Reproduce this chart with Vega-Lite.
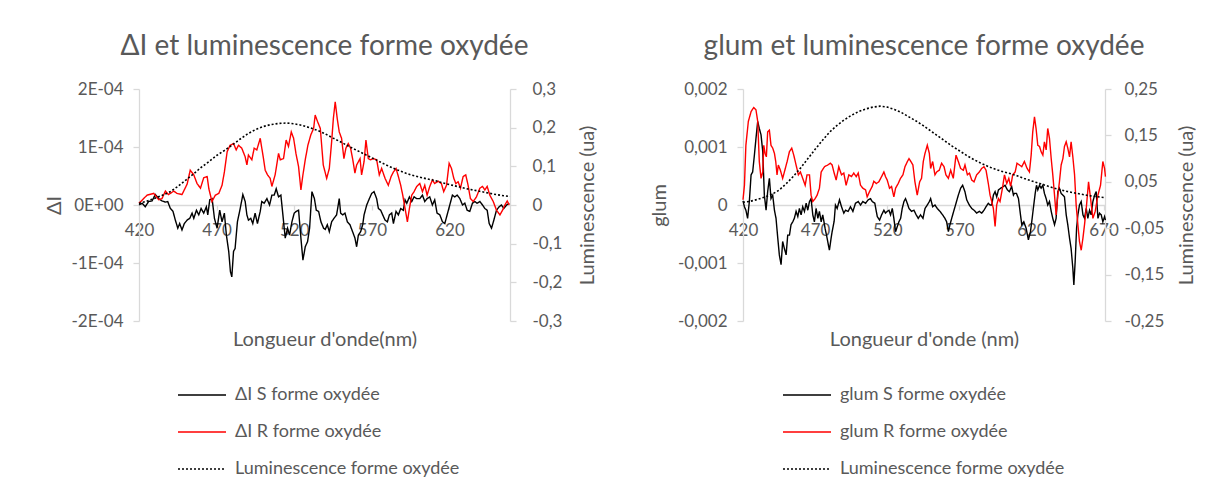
{
  "$schema": "https://vega.github.io/schema/vega-lite/v6.json",
  "background": "white",
  "padding": {"left": 44, "top": 33, "right": 0, "bottom": 0},
  "spacing": 52,
  "config": {
    "font": "Lato",
    "view": {"stroke": null},
    "axis": {"domainColor": "#d9d9d9", "domainWidth": 1.3, "tickColor": "#d9d9d9", "tickWidth": 1.3, "tickSize": 6, "labelColor": "#595959", "labelFont": "Lato", "labelFontSize": 17, "titleColor": "#595959", "titleFont": "Lato", "titleFontSize": 20, "titleFontWeight": "normal", "grid": false},
    "title": {"color": "#595959", "font": "Lato", "fontSize": 28, "fontWeight": "normal"},
    "legend": {"labelLimit": 0}
  },
  "datasets": {
    "lS": [{"nm":420,"v":0},{"nm":422,"v":0.03e-4},{"nm":424,"v":-0.03e-4},{"nm":426.2,"v":0.06e-4},{"nm":428.4,"v":0.07e-4},{"nm":430.5,"v":0.18e-4},{"nm":432.7,"v":0.11e-4},{"nm":434.8,"v":0.07e-4},{"nm":437,"v":0.05e-4},{"nm":438.5,"v":0.06e-4},{"nm":440.2,"v":-0.06e-4},{"nm":441.9,"v":-0.11e-4},{"nm":443.4,"v":-0.26e-4},{"nm":445,"v":-0.4e-4},{"nm":446.2,"v":-0.32e-4},{"nm":447.7,"v":-0.43e-4},{"nm":449.2,"v":-0.32e-4},{"nm":451,"v":-0.26e-4},{"nm":452.7,"v":-0.23e-4},{"nm":454.2,"v":-0.14e-4},{"nm":455.3,"v":-0.23e-4},{"nm":457,"v":-0.09e-4},{"nm":458.5,"v":-0.17e-4},{"nm":460,"v":-0.06e-4},{"nm":461.7,"v":-0.14e-4},{"nm":463.4,"v":-0.03e-4},{"nm":464.3,"v":-0.17e-4},{"nm":465.6,"v":0.09e-4},{"nm":467.1,"v":0.11e-4},{"nm":468.6,"v":-0.23e-4},{"nm":470.3,"v":-0.4e-4},{"nm":472,"v":-0.09e-4},{"nm":473.5,"v":-0.29e-4},{"nm":475,"v":-0.14e-4},{"nm":476.3,"v":-0.52e-4},{"nm":477.8,"v":-0.8e-4},{"nm":478.9,"v":-1.15e-4},{"nm":479.8,"v":-1.24e-4},{"nm":480.9,"v":-0.8e-4},{"nm":481.9,"v":-0.75e-4},{"nm":483.4,"v":-0.29e-4},{"nm":485.2,"v":-0.06e-4},{"nm":486.9,"v":0.18e-4},{"nm":488.4,"v":0.06e-4},{"nm":489.5,"v":-0.17e-4},{"nm":490.5,"v":-0.26e-4},{"nm":492,"v":-0.23e-4},{"nm":493.3,"v":-0.32e-4},{"nm":494.8,"v":-0.14e-4},{"nm":496.3,"v":-0.32e-4},{"nm":498.1,"v":-0.11e-4},{"nm":499.1,"v":0.06e-4},{"nm":500.6,"v":0.03e-4},{"nm":502.4,"v":0.11e-4},{"nm":504.1,"v":0},{"nm":505.6,"v":0.17e-4},{"nm":507.1,"v":0.17e-4},{"nm":508.4,"v":0.28e-4},{"nm":509.9,"v":0.14e-4},{"nm":511.4,"v":0.17e-4},{"nm":512.7,"v":-0.17e-4},{"nm":514.2,"v":-0.57e-4},{"nm":515.7,"v":-0.4e-4},{"nm":517,"v":-0.52e-4},{"nm":518.5,"v":-0.29e-4},{"nm":520,"v":-0.14e-4},{"nm":521.3,"v":-0.11e-4},{"nm":522.8,"v":-0.09e-4},{"nm":524.3,"v":-0.57e-4},{"nm":525.6,"v":-0.95e-4},{"nm":527.1,"v":-0.72e-4},{"nm":528.6,"v":-0.63e-4},{"nm":529.9,"v":-0.4e-4},{"nm":531.4,"v":0.23e-4},{"nm":533,"v":0.11e-4},{"nm":534.2,"v":-0.09e-4},{"nm":535.7,"v":-0.11e-4},{"nm":537.2,"v":-0.29e-4},{"nm":538.9,"v":-0.4e-4},{"nm":540,"v":-0.42e-4},{"nm":541.3,"v":-0.34e-4},{"nm":542.6,"v":-0.46e-4},{"nm":544.1,"v":-0.29e-4},{"nm":545.6,"v":-0.23e-4},{"nm":547.3,"v":-0.17e-4},{"nm":549,"v":0.11e-4},{"nm":549.9,"v":-0.14e-4},{"nm":551.2,"v":-0.17e-4},{"nm":552.7,"v":-0.14e-4},{"nm":554.2,"v":-0.29e-4},{"nm":555.9,"v":-0.34e-4},{"nm":557.6,"v":-0.46e-4},{"nm":559.1,"v":-0.57e-4},{"nm":560.2,"v":-0.72e-4},{"nm":561.3,"v":-0.52e-4},{"nm":562.8,"v":-0.46e-4},{"nm":564.1,"v":-0.34e-4},{"nm":565,"v":-0.17e-4},{"nm":566.7,"v":0},{"nm":568.4,"v":0.11e-4},{"nm":569.9,"v":0.2e-4},{"nm":571.4,"v":0.23e-4},{"nm":573.1,"v":0.11e-4},{"nm":574.2,"v":-0.06e-4},{"nm":575.7,"v":-0.09e-4},{"nm":577,"v":-0.17e-4},{"nm":578.5,"v":-0.26e-4},{"nm":580,"v":-0.29e-4},{"nm":581.3,"v":-0.17e-4},{"nm":582.8,"v":-0.14e-4},{"nm":583.9,"v":-0.32e-4},{"nm":585.6,"v":-0.11e-4},{"nm":587.1,"v":-0.17e-4},{"nm":588.6,"v":-0.06e-4},{"nm":590.3,"v":-0.09e-4},{"nm":591.4,"v":0.09e-4},{"nm":592.5,"v":0.03e-4},{"nm":594.2,"v":0.14e-4},{"nm":595.7,"v":0.06e-4},{"nm":597.2,"v":0.14e-4},{"nm":598.9,"v":0.11e-4},{"nm":600.9,"v":0.11e-4},{"nm":602.6,"v":0.17e-4},{"nm":604.1,"v":0.06e-4},{"nm":605.6,"v":0.11e-4},{"nm":607.3,"v":0.14e-4},{"nm":609,"v":0},{"nm":610.5,"v":0.09e-4},{"nm":612,"v":-0.14e-4},{"nm":613.8,"v":-0.17e-4},{"nm":615.5,"v":-0.29e-4},{"nm":617,"v":-0.32e-4},{"nm":618.5,"v":-0.17e-4},{"nm":620.2,"v":0},{"nm":621.9,"v":0.17e-4},{"nm":623.4,"v":0.14e-4},{"nm":625,"v":0.17e-4},{"nm":626.7,"v":0.11e-4},{"nm":628.4,"v":0},{"nm":629.9,"v":0.03e-4},{"nm":631.4,"v":-0.09e-4},{"nm":633.1,"v":-0.11e-4},{"nm":634.8,"v":0.03e-4},{"nm":636.3,"v":0.06e-4},{"nm":637.8,"v":0.03e-4},{"nm":639.6,"v":0.06e-4},{"nm":641.3,"v":0},{"nm":642.8,"v":-0.06e-4},{"nm":644.3,"v":-0.09e-4},{"nm":645.6,"v":-0.32e-4},{"nm":647.1,"v":-0.4e-4},{"nm":648.6,"v":-0.26e-4},{"nm":650.3,"v":-0.09e-4},{"nm":652,"v":-0.03e-4},{"nm":653.5,"v":0},{"nm":655,"v":-0.06e-4},{"nm":656.8,"v":0},{"nm":658.5,"v":0.03e-4}],
    "lR": [{"nm":420,"v":0.03e-4},{"nm":425.2,"v":0.17e-4},{"nm":429.5,"v":0.2e-4},{"nm":432.7,"v":0.09e-4},{"nm":434.8,"v":0.11e-4},{"nm":437,"v":0.24e-4},{"nm":439,"v":0.18e-4},{"nm":442.4,"v":0.24e-4},{"nm":444.5,"v":0.2e-4},{"nm":447.7,"v":0.18e-4},{"nm":451,"v":0.36e-4},{"nm":453,"v":0.6e-4},{"nm":455.3,"v":0.52e-4},{"nm":457.4,"v":0.37e-4},{"nm":459.6,"v":0.29e-4},{"nm":461.7,"v":0.47e-4},{"nm":463.9,"v":0.49e-4},{"nm":465,"v":0.28e-4},{"nm":467,"v":0.06e-4},{"nm":469.2,"v":0.17e-4},{"nm":471.4,"v":0.2e-4},{"nm":473.5,"v":0.34e-4},{"nm":475,"v":0.57e-4},{"nm":476.8,"v":0.92e-4},{"nm":478.7,"v":1.03e-4},{"nm":480.9,"v":1.06e-4},{"nm":482.6,"v":0.95e-4},{"nm":484.1,"v":1.03e-4},{"nm":486.2,"v":0.98e-4},{"nm":488.4,"v":0.83e-4},{"nm":489.5,"v":0.69e-4},{"nm":490.5,"v":0.86e-4},{"nm":492.7,"v":0.78e-4},{"nm":494.2,"v":0.98e-4},{"nm":495.9,"v":0.95e-4},{"nm":498.1,"v":1.15e-4},{"nm":499.1,"v":0.98e-4},{"nm":500.2,"v":0.8e-4},{"nm":501.3,"v":0.6e-4},{"nm":502.8,"v":0.52e-4},{"nm":504.5,"v":0.46e-4},{"nm":505.6,"v":0.32e-4},{"nm":507.7,"v":0.52e-4},{"nm":509.9,"v":0.89e-4},{"nm":511,"v":0.78e-4},{"nm":513.1,"v":0.8e-4},{"nm":514.8,"v":1.12e-4},{"nm":516.3,"v":1.01e-4},{"nm":518.1,"v":1.26e-4},{"nm":519.6,"v":1.15e-4},{"nm":521.1,"v":0.89e-4},{"nm":522.8,"v":0.66e-4},{"nm":524.3,"v":0.26e-4},{"nm":525.6,"v":0.52e-4},{"nm":527.1,"v":0.78e-4},{"nm":528.8,"v":1.03e-4},{"nm":530.7,"v":1.21e-4},{"nm":532.5,"v":1.32e-4},{"nm":533.5,"v":1.55e-4},{"nm":535,"v":1.44e-4},{"nm":536.8,"v":1.32e-4},{"nm":538.7,"v":0.69e-4},{"nm":540.9,"v":0.46e-4},{"nm":542.6,"v":0.63e-4},{"nm":544.1,"v":1.09e-4},{"nm":545.2,"v":1.49e-4},{"nm":546.4,"v":1.78e-4},{"nm":547.7,"v":1.49e-4},{"nm":549,"v":1.26e-4},{"nm":550.5,"v":1.15e-4},{"nm":552,"v":0.8e-4},{"nm":553.3,"v":0.98e-4},{"nm":554.8,"v":1.06e-4},{"nm":556.3,"v":0.98e-4},{"nm":557.6,"v":0.8e-4},{"nm":559.1,"v":0.55e-4},{"nm":560.2,"v":0.69e-4},{"nm":562.4,"v":0.8e-4},{"nm":563.4,"v":0.52e-4},{"nm":565,"v":0.75e-4},{"nm":566.2,"v":1.12e-4},{"nm":567.7,"v":0.8e-4},{"nm":569.2,"v":0.78e-4},{"nm":571,"v":0.8e-4},{"nm":573.1,"v":0.78e-4},{"nm":574.8,"v":0.52e-4},{"nm":576.3,"v":0.63e-4},{"nm":578.5,"v":0.46e-4},{"nm":580.6,"v":0.34e-4},{"nm":582.4,"v":0.49e-4},{"nm":583.9,"v":0.57e-4},{"nm":585.6,"v":0.63e-4},{"nm":587.1,"v":0.49e-4},{"nm":588.6,"v":0.34e-4},{"nm":589.9,"v":0.17e-4},{"nm":591.4,"v":-0.06e-4},{"nm":592.9,"v":-0.29e-4},{"nm":594.2,"v":-0.06e-4},{"nm":595.7,"v":0.17e-4},{"nm":597.2,"v":0.23e-4},{"nm":598.9,"v":0.32e-4},{"nm":600.9,"v":0.37e-4},{"nm":602.6,"v":0.23e-4},{"nm":604.1,"v":0.34e-4},{"nm":605.6,"v":0.17e-4},{"nm":607.3,"v":0.32e-4},{"nm":609,"v":0.43e-4},{"nm":610.5,"v":0.37e-4},{"nm":612.7,"v":0.41e-4},{"nm":614.8,"v":0.37e-4},{"nm":616.3,"v":0.23e-4},{"nm":618.1,"v":0.34e-4},{"nm":619.8,"v":0.72e-4},{"nm":621.3,"v":0.63e-4},{"nm":622.8,"v":0.46e-4},{"nm":624.1,"v":0.37e-4},{"nm":625.6,"v":0.4e-4},{"nm":627.1,"v":0.29e-4},{"nm":628.8,"v":0.49e-4},{"nm":630.5,"v":0.52e-4},{"nm":632,"v":0.34e-4},{"nm":633.5,"v":0.11e-4},{"nm":635.3,"v":0.06e-4},{"nm":637.4,"v":0.14e-4},{"nm":639.6,"v":0.29e-4},{"nm":641.3,"v":0.32e-4},{"nm":642.8,"v":0.26e-4},{"nm":644.3,"v":0.32e-4},{"nm":646,"v":0.17e-4},{"nm":648.2,"v":0.06e-4},{"nm":650.3,"v":-0.09e-4},{"nm":652.5,"v":-0.17e-4},{"nm":654.2,"v":-0.09e-4},{"nm":655.7,"v":0},{"nm":657.2,"v":0.07e-4},{"nm":658.5,"v":0}],
    "lL": [{"nm":420,"v":0.004},{"nm":425,"v":0.01},{"nm":430,"v":0.017},{"nm":435,"v":0.025},{"nm":440,"v":0.034},{"nm":445,"v":0.048},{"nm":450,"v":0.064},{"nm":455,"v":0.08},{"nm":460,"v":0.097},{"nm":465,"v":0.112},{"nm":470,"v":0.128},{"nm":475,"v":0.141},{"nm":480,"v":0.155},{"nm":485,"v":0.17},{"nm":490,"v":0.184},{"nm":495,"v":0.195},{"nm":500,"v":0.203},{"nm":505,"v":0.208},{"nm":510,"v":0.211},{"nm":515,"v":0.212},{"nm":520,"v":0.21},{"nm":525,"v":0.206},{"nm":530,"v":0.2},{"nm":535,"v":0.193},{"nm":540,"v":0.184},{"nm":545,"v":0.173},{"nm":550,"v":0.163},{"nm":555,"v":0.152},{"nm":560,"v":0.142},{"nm":565,"v":0.132},{"nm":570,"v":0.122},{"nm":575,"v":0.112},{"nm":580,"v":0.102},{"nm":585,"v":0.093},{"nm":590,"v":0.085},{"nm":595,"v":0.078},{"nm":600,"v":0.073},{"nm":605,"v":0.068},{"nm":610,"v":0.064},{"nm":615,"v":0.058},{"nm":620,"v":0.053},{"nm":625,"v":0.048},{"nm":630,"v":0.043},{"nm":635,"v":0.039},{"nm":640,"v":0.035},{"nm":645,"v":0.031},{"nm":650,"v":0.027},{"nm":655,"v":0.024},{"nm":659,"v":0.022}],
    "rS": [{"nm":420,"v":0.07e-3},{"nm":421,"v":-0.03e-3},{"nm":422,"v":-0.09e-3},{"nm":423.2,"v":-0.23e-3},{"nm":424.4,"v":0.06e-3},{"nm":425.6,"v":0.52e-3},{"nm":426.7,"v":0.57e-3},{"nm":427.9,"v":0.86e-3},{"nm":429,"v":1.15e-3},{"nm":430.2,"v":1.44e-3},{"nm":431.3,"v":1.32e-3},{"nm":432.5,"v":1.21e-3},{"nm":433.7,"v":0.92e-3},{"nm":434.8,"v":0.17e-3},{"nm":436,"v":-0.09e-3},{"nm":437.1,"v":0.23e-3},{"nm":438.3,"v":0.46e-3},{"nm":439.4,"v":0.11e-3},{"nm":440.6,"v":0.17e-3},{"nm":441.8,"v":-0.09e-3},{"nm":442.9,"v":-0.23e-3},{"nm":444.1,"v":-0.57e-3},{"nm":445.2,"v":-0.86e-3},{"nm":446.4,"v":-1.03e-3},{"nm":447.5,"v":-0.63e-3},{"nm":448.7,"v":-0.75e-3},{"nm":449.9,"v":-0.86e-3},{"nm":451,"v":-0.52e-3},{"nm":452.2,"v":-0.52e-3},{"nm":453.3,"v":-0.34e-3},{"nm":454.5,"v":-0.29e-3},{"nm":455.6,"v":-0.23e-3},{"nm":456.8,"v":-0.11e-3},{"nm":458,"v":-0.2e-3},{"nm":459.1,"v":-0.06e-3},{"nm":460.3,"v":-0.17e-3},{"nm":461.4,"v":-0.03e-3},{"nm":462.6,"v":-0.11e-3},{"nm":463.8,"v":0.03e-3},{"nm":464.9,"v":-0.09e-3},{"nm":466.1,"v":0.06e-3},{"nm":467.2,"v":0.11e-3},{"nm":468.4,"v":-0.17e-3},{"nm":469.5,"v":-0.29e-3},{"nm":470.7,"v":-0.06e-3},{"nm":471.9,"v":-0.23e-3},{"nm":473,"v":-0.11e-3},{"nm":474.2,"v":-0.29e-3},{"nm":475.3,"v":-0.17e-3},{"nm":476.9,"v":-0.4e-3},{"nm":478.3,"v":-0.57e-3},{"nm":479.9,"v":-0.78e-3},{"nm":481.1,"v":-0.57e-3},{"nm":481.8,"v":-0.46e-3},{"nm":483.2,"v":-0.28e-3},{"nm":484.1,"v":0},{"nm":485.3,"v":-0.06e-3},{"nm":486.9,"v":0.09e-3},{"nm":488.3,"v":-0.03e-3},{"nm":489.9,"v":-0.14e-3},{"nm":491.1,"v":-0.09e-3},{"nm":492.9,"v":-0.11e-3},{"nm":494.5,"v":-0.03e-3},{"nm":496.2,"v":-0.11e-3},{"nm":498,"v":0.03e-3},{"nm":499.9,"v":0.06e-3},{"nm":501.5,"v":0},{"nm":503.1,"v":0.06e-3},{"nm":505,"v":0.03e-3},{"nm":506.8,"v":0.09e-3},{"nm":508.4,"v":0.11e-3},{"nm":509.6,"v":0.06e-3},{"nm":511.4,"v":0.03e-3},{"nm":513.1,"v":-0.2e-3},{"nm":514.7,"v":-0.26e-3},{"nm":516.1,"v":-0.17e-3},{"nm":517.7,"v":-0.09e-3},{"nm":518.8,"v":-0.14e-3},{"nm":520,"v":-0.11e-3},{"nm":521.2,"v":-0.09e-3},{"nm":522.3,"v":-0.17e-3},{"nm":523.5,"v":-0.06e-3},{"nm":524.6,"v":-0.23e-3},{"nm":525.8,"v":-0.46e-3},{"nm":527,"v":-0.37e-3},{"nm":528.1,"v":-0.29e-3},{"nm":529.3,"v":-0.23e-3},{"nm":530.4,"v":-0.06e-3},{"nm":531.6,"v":0.06e-3},{"nm":532.7,"v":0.11e-3},{"nm":533.9,"v":0.03e-3},{"nm":535.1,"v":-0.06e-3},{"nm":536.9,"v":-0.11e-3},{"nm":538.5,"v":-0.09e-3},{"nm":540.1,"v":-0.17e-3},{"nm":541.5,"v":-0.23e-3},{"nm":543.1,"v":-0.17e-3},{"nm":544.8,"v":-0.23e-3},{"nm":546.2,"v":-0.06e-3},{"nm":547.8,"v":0},{"nm":549.2,"v":0.06e-3},{"nm":550.1,"v":0.11e-3},{"nm":551.5,"v":-0.03e-3},{"nm":553.1,"v":0},{"nm":554.7,"v":-0.06e-3},{"nm":556.6,"v":-0.11e-3},{"nm":558.4,"v":-0.17e-3},{"nm":560,"v":-0.23e-3},{"nm":561.2,"v":-0.29e-3},{"nm":562.4,"v":-0.46e-3},{"nm":563.5,"v":-0.34e-3},{"nm":564.7,"v":-0.23e-3},{"nm":566.3,"v":-0.09e-3},{"nm":567.7,"v":0.03e-3},{"nm":569.3,"v":0.17e-3},{"nm":570.9,"v":0.29e-3},{"nm":572.3,"v":0.34e-3},{"nm":573.9,"v":0.23e-3},{"nm":575.1,"v":0.09e-3},{"nm":576.9,"v":0},{"nm":578.6,"v":-0.06e-3},{"nm":580.2,"v":-0.09e-3},{"nm":582,"v":-0.14e-3},{"nm":583.9,"v":-0.11e-3},{"nm":585.5,"v":-0.14e-3},{"nm":587.1,"v":-0.09e-3},{"nm":588.5,"v":-0.03e-3},{"nm":590.1,"v":0.03e-3},{"nm":591.3,"v":0},{"nm":592.5,"v":0},{"nm":593.6,"v":0.17e-3},{"nm":594.8,"v":0.23e-3},{"nm":595.9,"v":0.14e-3},{"nm":597.1,"v":0.26e-3},{"nm":598.7,"v":0.29e-3},{"nm":600.6,"v":0.32e-3},{"nm":601.7,"v":0.34e-3},{"nm":603.3,"v":0.26e-3},{"nm":604.7,"v":0.23e-3},{"nm":606.3,"v":0.32e-3},{"nm":607.5,"v":0.17e-3},{"nm":608.2,"v":0.2e-3},{"nm":609.6,"v":0.2e-3},{"nm":611,"v":0.11e-3},{"nm":612.4,"v":-0.17e-3},{"nm":613.3,"v":-0.34e-3},{"nm":614.7,"v":-0.29e-3},{"nm":616.3,"v":-0.4e-3},{"nm":617.9,"v":-0.6e-3},{"nm":619.3,"v":-0.46e-3},{"nm":620.2,"v":-0.29e-3},{"nm":621.6,"v":0},{"nm":622.6,"v":0.2e-3},{"nm":623.5,"v":0.34e-3},{"nm":624.4,"v":0.26e-3},{"nm":625.6,"v":0.34e-3},{"nm":626.7,"v":0.29e-3},{"nm":627.9,"v":0.34e-3},{"nm":629,"v":0.2e-3},{"nm":630.2,"v":0.11e-3},{"nm":631.3,"v":0},{"nm":632.5,"v":0.06e-3},{"nm":633.7,"v":-0.11e-3},{"nm":634.8,"v":-0.23e-3},{"nm":636,"v":-0.34e-3},{"nm":637.1,"v":-0.23e-3},{"nm":638.3,"v":0.23e-3},{"nm":639.4,"v":0.29e-3},{"nm":640.6,"v":0.2e-3},{"nm":641.8,"v":0.17e-3},{"nm":642.9,"v":0.14e-3},{"nm":644.1,"v":-0.17e-3},{"nm":645.2,"v":-0.34e-3},{"nm":646.4,"v":-0.57e-3},{"nm":647.5,"v":-0.75e-3},{"nm":648.7,"v":-1.09e-3},{"nm":649.4,"v":-1.38e-3},{"nm":650.3,"v":-0.98e-3},{"nm":651.3,"v":-0.4e-3},{"nm":652.2,"v":-0.17e-3},{"nm":653.3,"v":0},{"nm":654.5,"v":0.06e-3},{"nm":655.7,"v":-0.17e-3},{"nm":656.8,"v":-0.23e-3},{"nm":658,"v":-0.06e-3},{"nm":659.1,"v":-0.23e-3},{"nm":660.3,"v":-0.09e-3},{"nm":661.4,"v":-0.17e-3},{"nm":662.6,"v":0.06e-3},{"nm":663.8,"v":0.17e-3},{"nm":664.9,"v":0.23e-3},{"nm":666.1,"v":-0.23e-3},{"nm":667.2,"v":-0.14e-3},{"nm":668.4,"v":-0.17e-3},{"nm":669.5,"v":-0.29e-3},{"nm":670.7,"v":-0.2e-3},{"nm":671.3,"v":-0.26e-3}],
    "rR": [{"nm":420,"v":0.09e-3},{"nm":421,"v":0.34e-3},{"nm":422,"v":1.03e-3},{"nm":423.7,"v":1.44e-3},{"nm":425.6,"v":1.61e-3},{"nm":427.4,"v":1.68e-3},{"nm":429,"v":1.64e-3},{"nm":430.2,"v":1.44e-3},{"nm":431.3,"v":0.75e-3},{"nm":432.5,"v":0.46e-3},{"nm":433.7,"v":0.57e-3},{"nm":434.4,"v":1.03e-3},{"nm":435.3,"v":0.89e-3},{"nm":436.2,"v":0.83e-3},{"nm":437.1,"v":1.26e-3},{"nm":438.3,"v":1.29e-3},{"nm":439.4,"v":1.03e-3},{"nm":440.6,"v":0.98e-3},{"nm":441.8,"v":0.89e-3},{"nm":442.7,"v":0.75e-3},{"nm":443.6,"v":0.52e-3},{"nm":444.5,"v":0.69e-3},{"nm":445.9,"v":0.6e-3},{"nm":447.5,"v":0.46e-3},{"nm":448.7,"v":0.57e-3},{"nm":450.6,"v":0.75e-3},{"nm":452.2,"v":0.92e-3},{"nm":453.8,"v":0.98e-3},{"nm":455.2,"v":0.86e-3},{"nm":456.8,"v":0.69e-3},{"nm":458.4,"v":0.52e-3},{"nm":459.8,"v":0.57e-3},{"nm":461.4,"v":0.46e-3},{"nm":463.1,"v":0.34e-3},{"nm":464.4,"v":0.52e-3},{"nm":466.1,"v":0.52e-3},{"nm":467.2,"v":0.17e-3},{"nm":468.4,"v":0.06e-3},{"nm":470,"v":0.11e-3},{"nm":471.4,"v":0.17e-3},{"nm":473,"v":0.29e-3},{"nm":474.2,"v":0.57e-3},{"nm":476.5,"v":0.66e-3},{"nm":478.8,"v":0.69e-3},{"nm":480.6,"v":0.72e-3},{"nm":481.8,"v":0.69e-3},{"nm":483,"v":0.57e-3},{"nm":484.6,"v":0.43e-3},{"nm":486.4,"v":0.66e-3},{"nm":488.3,"v":0.52e-3},{"nm":489.9,"v":0.55e-3},{"nm":491.5,"v":0.34e-3},{"nm":493.4,"v":0.52e-3},{"nm":495.2,"v":0.49e-3},{"nm":496.8,"v":0.55e-3},{"nm":498.5,"v":0.49e-3},{"nm":499.9,"v":0.55e-3},{"nm":501.5,"v":0.34e-3},{"nm":503.1,"v":0.29e-3},{"nm":505,"v":0.26e-3},{"nm":506.1,"v":0.14e-3},{"nm":507.7,"v":0.23e-3},{"nm":509.6,"v":0.32e-3},{"nm":510.7,"v":0.41e-3},{"nm":512.4,"v":0.37e-3},{"nm":514.2,"v":0.4e-3},{"nm":516.1,"v":0.49e-3},{"nm":517.7,"v":0.57e-3},{"nm":518.8,"v":0.49e-3},{"nm":520,"v":0.43e-3},{"nm":521.6,"v":0.29e-3},{"nm":523,"v":0.32e-3},{"nm":524.6,"v":0.14e-3},{"nm":525.8,"v":0.29e-3},{"nm":527.6,"v":0.37e-3},{"nm":529.2,"v":0.46e-3},{"nm":530.9,"v":0.52e-3},{"nm":532.3,"v":0.66e-3},{"nm":534,"v":0.75e-3},{"nm":535.1,"v":0.8e-3},{"nm":536.4,"v":0.75e-3},{"nm":537.8,"v":0.69e-3},{"nm":539.2,"v":0.4e-3},{"nm":540.8,"v":0.17e-3},{"nm":542.5,"v":0.4e-3},{"nm":543.8,"v":0.46e-3},{"nm":545,"v":0.75e-3},{"nm":546.2,"v":0.89e-3},{"nm":547.8,"v":1.03e-3},{"nm":549.2,"v":0.89e-3},{"nm":550.1,"v":0.63e-3},{"nm":551.5,"v":0.75e-3},{"nm":553.1,"v":0.52e-3},{"nm":554.3,"v":0.57e-3},{"nm":556.1,"v":0.6e-3},{"nm":557.7,"v":0.72e-3},{"nm":559.4,"v":0.66e-3},{"nm":560.7,"v":0.52e-3},{"nm":562.4,"v":0.46e-3},{"nm":564,"v":0.6e-3},{"nm":565.8,"v":0.46e-3},{"nm":567.7,"v":0.86e-3},{"nm":569.3,"v":0.75e-3},{"nm":570.9,"v":0.63e-3},{"nm":572.8,"v":0.6e-3},{"nm":573.9,"v":0.69e-3},{"nm":575.6,"v":0.52e-3},{"nm":577,"v":0.55e-3},{"nm":578.6,"v":0.43e-3},{"nm":580.2,"v":0.4e-3},{"nm":582,"v":0.52e-3},{"nm":583.9,"v":0.57e-3},{"nm":585.5,"v":0.63e-3},{"nm":587.1,"v":0.66e-3},{"nm":588.5,"v":0.6e-3},{"nm":590.1,"v":0.37e-3},{"nm":591.3,"v":0.17e-3},{"nm":592.5,"v":0.06e-3},{"nm":593.6,"v":-0.06e-3},{"nm":594.8,"v":-0.37e-3},{"nm":595.9,"v":0},{"nm":597.1,"v":0.11e-3},{"nm":598.2,"v":0.06e-3},{"nm":599.9,"v":0.29e-3},{"nm":601.3,"v":0.52e-3},{"nm":602.9,"v":0.37e-3},{"nm":604.3,"v":0.46e-3},{"nm":605.6,"v":0.32e-3},{"nm":607,"v":0.52e-3},{"nm":608.7,"v":0.57e-3},{"nm":610,"v":0.72e-3},{"nm":611.7,"v":0.69e-3},{"nm":613.3,"v":0.66e-3},{"nm":615.1,"v":0.75e-3},{"nm":617,"v":0.63e-3},{"nm":618.6,"v":0.57e-3},{"nm":619.8,"v":0.86e-3},{"nm":620.9,"v":1.26e-3},{"nm":622.1,"v":1.52e-3},{"nm":623.2,"v":1.32e-3},{"nm":624.4,"v":1.03e-3},{"nm":625.6,"v":1.01e-3},{"nm":626.7,"v":0.92e-3},{"nm":627.9,"v":0.86e-3},{"nm":629,"v":1.09e-3},{"nm":630.2,"v":0.95e-3},{"nm":631.3,"v":1.32e-3},{"nm":632.5,"v":1.15e-3},{"nm":633.7,"v":0.8e-3},{"nm":634.8,"v":0.52e-3},{"nm":636,"v":0.17e-3},{"nm":637.1,"v":-0.17e-3},{"nm":638.3,"v":0.17e-3},{"nm":639.4,"v":0.4e-3},{"nm":640.6,"v":0.69e-3},{"nm":641.8,"v":0.8e-3},{"nm":642.9,"v":1.01e-3},{"nm":644.1,"v":1.09e-3},{"nm":645.2,"v":0.98e-3},{"nm":646.4,"v":0.83e-3},{"nm":647.5,"v":1.09e-3},{"nm":648.7,"v":0.83e-3},{"nm":649.9,"v":0.52e-3},{"nm":651,"v":0},{"nm":652.2,"v":-0.34e-3},{"nm":653.3,"v":-0.63e-3},{"nm":654.5,"v":-0.78e-3},{"nm":655.7,"v":-0.57e-3},{"nm":656.8,"v":-0.34e-3},{"nm":658,"v":-0.06e-3},{"nm":659.6,"v":0.4e-3},{"nm":661,"v":0.11e-3},{"nm":662.6,"v":-0.23e-3},{"nm":664.2,"v":-0.11e-3},{"nm":666.1,"v":0.17e-3},{"nm":667.9,"v":0.34e-3},{"nm":669.5,"v":0.75e-3},{"nm":670.7,"v":0.63e-3},{"nm":671.3,"v":0.49e-3}],
    "rL": [{"nm":420,"v":0.006},{"nm":425,"v":0.008},{"nm":430,"v":0.012},{"nm":435,"v":0.017},{"nm":440,"v":0.023},{"nm":445,"v":0.032},{"nm":450,"v":0.046},{"nm":455,"v":0.062},{"nm":460,"v":0.08},{"nm":465,"v":0.1},{"nm":470,"v":0.12},{"nm":475,"v":0.139},{"nm":480,"v":0.157},{"nm":485,"v":0.171},{"nm":490,"v":0.183},{"nm":495,"v":0.193},{"nm":500,"v":0.201},{"nm":505,"v":0.207},{"nm":510,"v":0.211},{"nm":515,"v":0.213},{"nm":520,"v":0.211},{"nm":525,"v":0.206},{"nm":530,"v":0.199},{"nm":535,"v":0.19},{"nm":540,"v":0.181},{"nm":545,"v":0.171},{"nm":550,"v":0.16},{"nm":555,"v":0.149},{"nm":560,"v":0.138},{"nm":565,"v":0.127},{"nm":570,"v":0.117},{"nm":575,"v":0.107},{"nm":580,"v":0.098},{"nm":585,"v":0.09},{"nm":590,"v":0.083},{"nm":595,"v":0.077},{"nm":600,"v":0.072},{"nm":605,"v":0.068},{"nm":610,"v":0.063},{"nm":615,"v":0.057},{"nm":620,"v":0.052},{"nm":625,"v":0.047},{"nm":630,"v":0.042},{"nm":635,"v":0.037},{"nm":640,"v":0.033},{"nm":645,"v":0.029},{"nm":650,"v":0.026},{"nm":655,"v":0.023},{"nm":660,"v":0.02},{"nm":665,"v":0.018},{"nm":671,"v":0.016}]
  },
  "hconcat": [
    {
      "title": {"text": "ΔI et luminescence forme oxydée", "baseline": "bottom", "offset": -9},
      "width": 371,
      "height": 232,
      "layer": [
        {
          "layer": [
            {
              "data": {"name": "lS"},
              "mark": {"type": "line", "strokeWidth": 1.4},
              "encoding": {
                "x": {"field": "nm", "type": "quantitative", "scale": {"domain": [420, 659], "nice": false, "zero": false},
                  "axis": {"title": "Longueur d'onde(nm)", "offset": -116, "values": [420, 470, 520, 570, 620], "labelFlush": false, "labelOverlap": false, "labelPadding": 12, "tickSize": 5, "titleY": 134, "titleBaseline": "middle"}},
                "y": {"field": "v", "type": "quantitative", "scale": {"domain": [-0.0002, 0.0002], "nice": false, "zero": false},
                  "axis": {"title": "ΔI", "values": [-0.0002, -0.0001, 0, 0.0001, 0.0002], "labelExpr": "datum.value == 0 ? '0E+00' : (datum.value < 0 ? '-' : '') + round(abs(datum.value) * 10000) + 'E-04'", "labelPadding": 10, "titleX": -85, "titleBaseline": "middle"}},
                "color": {"datum": "ΔI S forme oxydée", "type": "nominal", "scale": {"domain": ["ΔI S forme oxydée", "ΔI R forme oxydée", "Luminescence forme oxydée"], "range": ["#000000", "#ff0000", "#000000"]},
                  "legend": {"orient": "none", "legendX": 38, "legendY": 281, "title": null, "direction": "vertical", "symbolType": "stroke", "symbolSize": 2304, "symbolStrokeWidth": 1.4, "labelFontSize": 18, "labelColor": "#595959", "labelFont": "Lato", "labelOffset": 8, "rowPadding": 3, "labelLimit": 0}},
                "strokeDash": {"datum": "ΔI S forme oxydée", "type": "nominal", "scale": {"domain": ["ΔI S forme oxydée", "ΔI R forme oxydée", "Luminescence forme oxydée"], "range": [[1, 0], [1, 0], [2, 2]]},
                  "legend": {"orient": "none", "legendX": 38, "legendY": 281, "title": null, "direction": "vertical", "symbolType": "stroke", "symbolSize": 2304, "symbolStrokeWidth": 1.4, "labelFontSize": 18, "labelColor": "#595959", "labelFont": "Lato", "labelOffset": 8, "rowPadding": 3, "labelLimit": 0}}
              }
            },
            {
              "data": {"name": "lR"},
              "mark": {"type": "line", "strokeWidth": 1.4},
              "encoding": {
                "x": {"field": "nm", "type": "quantitative"},
                "y": {"field": "v", "type": "quantitative"},
                "color": {"datum": "ΔI R forme oxydée", "type": "nominal"},
                "strokeDash": {"datum": "ΔI R forme oxydée", "type": "nominal"}
              }
            }
          ]
        },
        {
          "data": {"name": "lL"},
          "mark": {"type": "line", "strokeWidth": 1.6},
          "encoding": {
            "x": {"field": "nm", "type": "quantitative"},
            "y": {"field": "v", "type": "quantitative", "scale": {"domain": [-0.3, 0.3], "nice": false, "zero": false},
              "axis": {"orient": "right", "title": "Luminescence (ua)", "values": [-0.3, -0.2, -0.1, 0, 0.1, 0.2, 0.3], "labelExpr": "(datum.value < 0 ? '-' : '') + replace(format(abs(datum.value), '~g'), '.', ',')", "labelPadding": 16, "titleAngle": 270, "titleX": 77, "titleBaseline": "middle"}},
            "color": {"datum": "Luminescence forme oxydée", "type": "nominal"},
            "strokeDash": {"datum": "Luminescence forme oxydée", "type": "nominal"}
          }
        }
      ],
      "resolve": {"scale": {"y": "independent"}}
    },
    {
      "title": {"text": "glum et luminescence forme oxydée", "baseline": "bottom", "offset": -9},
      "width": 362,
      "height": 232,
      "layer": [
        {
          "layer": [
            {
              "data": {"name": "rS"},
              "mark": {"type": "line", "strokeWidth": 1.4},
              "encoding": {
                "x": {"field": "nm", "type": "quantitative", "scale": {"domain": [420, 671], "nice": false, "zero": false},
                  "axis": {"title": "Longueur d'onde (nm)", "offset": -116, "values": [420, 470, 520, 570, 620, 670], "labelFlush": false, "labelOverlap": false, "labelPadding": 12, "tickSize": 5, "titleY": 134, "titleBaseline": "middle"}},
                "y": {"field": "v", "type": "quantitative", "scale": {"domain": [-0.002, 0.002], "nice": false, "zero": false},
                  "axis": {"title": "glum", "values": [-0.002, -0.001, 0, 0.001, 0.002], "labelExpr": "(datum.value < 0 ? '-' : '') + replace(format(abs(datum.value), '~g'), '.', ',')", "labelPadding": 10, "titleX": -84, "titleBaseline": "middle"}},
                "color": {"datum": "glum S forme oxydée", "type": "nominal", "scale": {"domain": ["glum S forme oxydée", "glum R forme oxydée", "Luminescence forme oxydée"], "range": ["#000000", "#ff0000", "#000000"]},
                  "legend": {"orient": "none", "legendX": 39, "legendY": 281, "title": null, "direction": "vertical", "symbolType": "stroke", "symbolSize": 2304, "symbolStrokeWidth": 1.4, "labelFontSize": 18, "labelColor": "#595959", "labelFont": "Lato", "labelOffset": 8, "rowPadding": 3, "labelLimit": 0}},
                "strokeDash": {"datum": "glum S forme oxydée", "type": "nominal", "scale": {"domain": ["glum S forme oxydée", "glum R forme oxydée", "Luminescence forme oxydée"], "range": [[1, 0], [1, 0], [2, 2]]},
                  "legend": {"orient": "none", "legendX": 39, "legendY": 281, "title": null, "direction": "vertical", "symbolType": "stroke", "symbolSize": 2304, "symbolStrokeWidth": 1.4, "labelFontSize": 18, "labelColor": "#595959", "labelFont": "Lato", "labelOffset": 8, "rowPadding": 3, "labelLimit": 0}}
              }
            },
            {
              "data": {"name": "rR"},
              "mark": {"type": "line", "strokeWidth": 1.4},
              "encoding": {
                "x": {"field": "nm", "type": "quantitative"},
                "y": {"field": "v", "type": "quantitative"},
                "color": {"datum": "glum R forme oxydée", "type": "nominal"},
                "strokeDash": {"datum": "glum R forme oxydée", "type": "nominal"}
              }
            }
          ]
        },
        {
          "data": {"name": "rL"},
          "mark": {"type": "line", "strokeWidth": 1.6},
          "encoding": {
            "x": {"field": "nm", "type": "quantitative"},
            "y": {"field": "v", "type": "quantitative", "scale": {"domain": [-0.25, 0.25], "nice": false, "zero": false},
              "axis": {"orient": "right", "title": "Luminescence (ua)", "values": [-0.25, -0.15, -0.05, 0.05, 0.15, 0.25], "labelExpr": "(datum.value < 0 ? '-' : '') + replace(format(abs(datum.value), '~g'), '.', ',')", "labelPadding": 13, "titleAngle": 270, "titleX": 81, "titleBaseline": "middle"}},
            "color": {"datum": "Luminescence forme oxydée", "type": "nominal"},
            "strokeDash": {"datum": "Luminescence forme oxydée", "type": "nominal"}
          }
        }
      ],
      "resolve": {"scale": {"y": "independent"}}
    }
  ],
  "resolve": {"scale": {"color": "independent", "strokeDash": "independent"}}
}
